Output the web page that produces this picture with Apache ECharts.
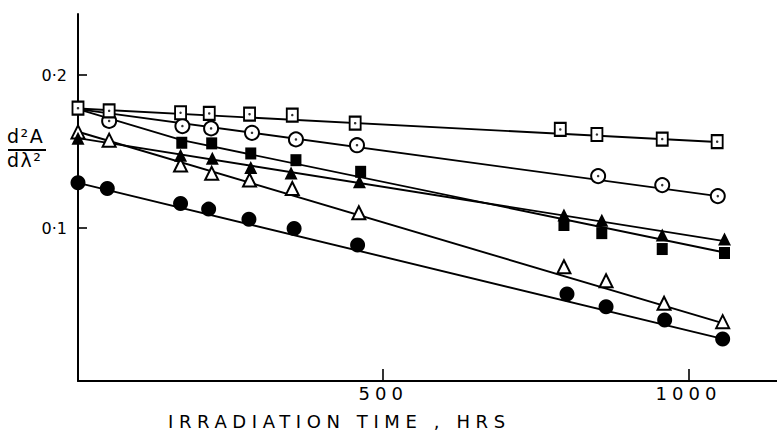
<!DOCTYPE html>
<html>
<head>
<meta charset="utf-8">
<script src="https://cdn.jsdelivr.net/npm/echarts@6/dist/echarts.min.js"></script>
<style>
html,body{margin:0;padding:0;background:#fff;}
#chart{width:777px;height:436px;}
</style>
</head>
<body>
<div id="chart"></div>
<script>
// ---- data ----
const xTicks = [500, 1000];
const yTicks = [0.1, 0.2];

// open squares (dotted)
const sqOpenX = [0, 51, 168, 215, 281, 351, 454, 790, 850, 957, 1047];
const sqOpenY = [0.1784, 0.1767, 0.1754, 0.1750, 0.1745, 0.1739, 0.1686, 0.1645, 0.1612, 0.1582, 0.1565];
const sqOpenLine = [[0, 0.1782], [1047, 0.1563]];

// open circles (dotted)
const circOpenX = [51, 171, 218, 285, 357, 457, 852, 957, 1048];
const circOpenY = [0.1701, 0.1667, 0.1652, 0.1623, 0.1580, 0.1542, 0.1340, 0.1281, 0.1209];
const circOpenLine = [[0, 0.1778], [1048, 0.1209]];

// filled squares
const sqFillX = [170, 219, 283, 357, 463, 796, 858, 957, 1059];
const sqFillY = [0.1558, 0.1554, 0.1488, 0.1444, 0.1368, 0.1020, 0.0967, 0.0863, 0.0837];
const sqFillLine = [[0, 0.1778], [170, 0.1575], [1059, 0.0840]];

// filled triangles
const triFillX = [0, 168, 220, 283, 349, 461, 796, 858, 957, 1059];
const triFillY = [0.1588, 0.1477, 0.1456, 0.1397, 0.1361, 0.1303, 0.1085, 0.1052, 0.0954, 0.0928];
const triFillLine = [[0, 0.1588], [1059, 0.0915]];

// open triangles
const triOpenX = [0, 51, 168, 219, 281, 351, 460, 796, 865, 960, 1056];
const triOpenY = [0.1629, 0.1575, 0.1412, 0.1358, 0.1314, 0.1259, 0.1100, 0.0747, 0.0656, 0.0508, 0.0388];
const triOpenLine = [[0, 0.1630], [1056, 0.0378]];

// filled circles
const circFillX = [0, 48, 168, 214, 280, 354, 458, 801, 865, 961, 1056];
const circFillY = [0.1296, 0.1259, 0.1161, 0.1124, 0.1057, 0.0998, 0.0889, 0.0569, 0.0486, 0.0399, 0.0275];
const circFillLine = [[0, 0.1296], [1056, 0.0275]];

const xTitle = 'IRRADIATION TIME , HRS';
const yTitleTop = 'd²A';
const yTitleBottom = 'dλ²';
// ---------------------------------------

const FONT = 'DejaVu Sans';
const zip = (xs, ys) => xs.map((x, i) => [x, ys[i]]);

function lineSeries(d) {
  return {type: 'line', data: d, symbol: 'none', silent: true, z: 1,
    lineStyle: {color: '#000', width: 1.9}, animation: false};
}
function markSeries(d, symbol, size, filled, z) {
  return {type: 'scatter', data: d, symbol: symbol, symbolSize: size, z: z || 3,
    itemStyle: {color: filled ? '#000' : '#fff', borderColor: '#000', borderWidth: filled ? 0 : 2, opacity: 1},
    animation: false};
}
function dotSeries(d) {
  return {type: 'scatter', data: d, symbol: 'circle', symbolSize: 2.5, z: 4,
    itemStyle: {color: '#000'}, animation: false};
}

const chart = echarts.init(document.getElementById('chart'), null, {renderer: 'svg'});
chart.setOption({
  animation: false,
  backgroundColor: '#fff',
  grid: {left: 78, right: 0, top: 14, bottom: 55, containLabel: false},
  xAxis: {
    type: 'value', min: 0, max: 1145, interval: 500,
    axisLine: {lineStyle: {color: '#000', width: 2}},
    axisTick: {inside: true, length: 12, lineStyle: {color: '#000', width: 1.6}, customValues: xTicks},
    axisLabel: {customValues: xTicks, color: '#000', fontSize: 18, fontFamily: FONT, margin: 3,
      formatter: v => String(v)},
    splitLine: {show: false}
  },
  yAxis: {
    type: 'value', min: 0, max: 0.24, interval: 0.1,
    axisLine: {show: true, lineStyle: {color: '#000', width: 2}},
    axisTick: {show: true, inside: true, length: 9, lineStyle: {color: '#000', width: 1.6}, customValues: yTicks},
    axisLabel: {customValues: yTicks, color: '#000', fontSize: 16, fontFamily: FONT, margin: 11,
      formatter: v => v.toFixed(1).replace('.', '·')},
    splitLine: {show: false}
  },
  graphic: [
    {type: 'text', left: 168, top: 412, z: 10,
      style: {text: xTitle, fontSize: 18, fontFamily: FONT, fill: '#000'}},
    {type: 'text', left: 7, top: 126, z: 10,
      style: {text: yTitleTop, fontSize: 19, fontFamily: FONT, fill: '#000'}},
    {type: 'line', z: 10, shape: {x1: 8, y1: 150, x2: 46, y2: 150},
      style: {stroke: '#000', lineWidth: 1.8}},
    {type: 'text', left: 7, top: 150, z: 10,
      style: {text: yTitleBottom, fontSize: 19, fontFamily: FONT, fill: '#000'}}
  ],
  series: [
    lineSeries(sqOpenLine), lineSeries(circOpenLine), lineSeries(sqFillLine),
    lineSeries(triFillLine), lineSeries(triOpenLine), lineSeries(circFillLine),
    markSeries(zip(circFillX, circFillY), 'circle', 15, true),
    markSeries(zip(triOpenX, triOpenY), 'triangle', 13, false),
    markSeries(zip(sqFillX, sqFillY), 'rect', [11, 12], true),
    markSeries(zip(triFillX, triFillY), 'triangle', 13, true),
    markSeries(zip(circOpenX, circOpenY), 'circle', 14, false),
    markSeries(zip(sqOpenX, sqOpenY), 'rect', [11, 13], false),
    dotSeries(zip(circOpenX, circOpenY)),
    dotSeries(zip(sqOpenX, sqOpenY))
  ]
});

// widen letter spacing of the axis title and x labels like the original lettering
function spaceLetters() {
  document.querySelectorAll('#chart text').forEach(t => {
    const s = t.textContent;
    if (s === xTitle) t.setAttribute('letter-spacing', '5.6');
    if (s === '500' || s === '1000') t.setAttribute('letter-spacing', '5');
    if (s === yTitleTop || s === yTitleBottom) t.setAttribute('letter-spacing', '1.5');
  });
}
spaceLetters();
chart.on('finished', spaceLetters);
</script>
</body>
</html>
